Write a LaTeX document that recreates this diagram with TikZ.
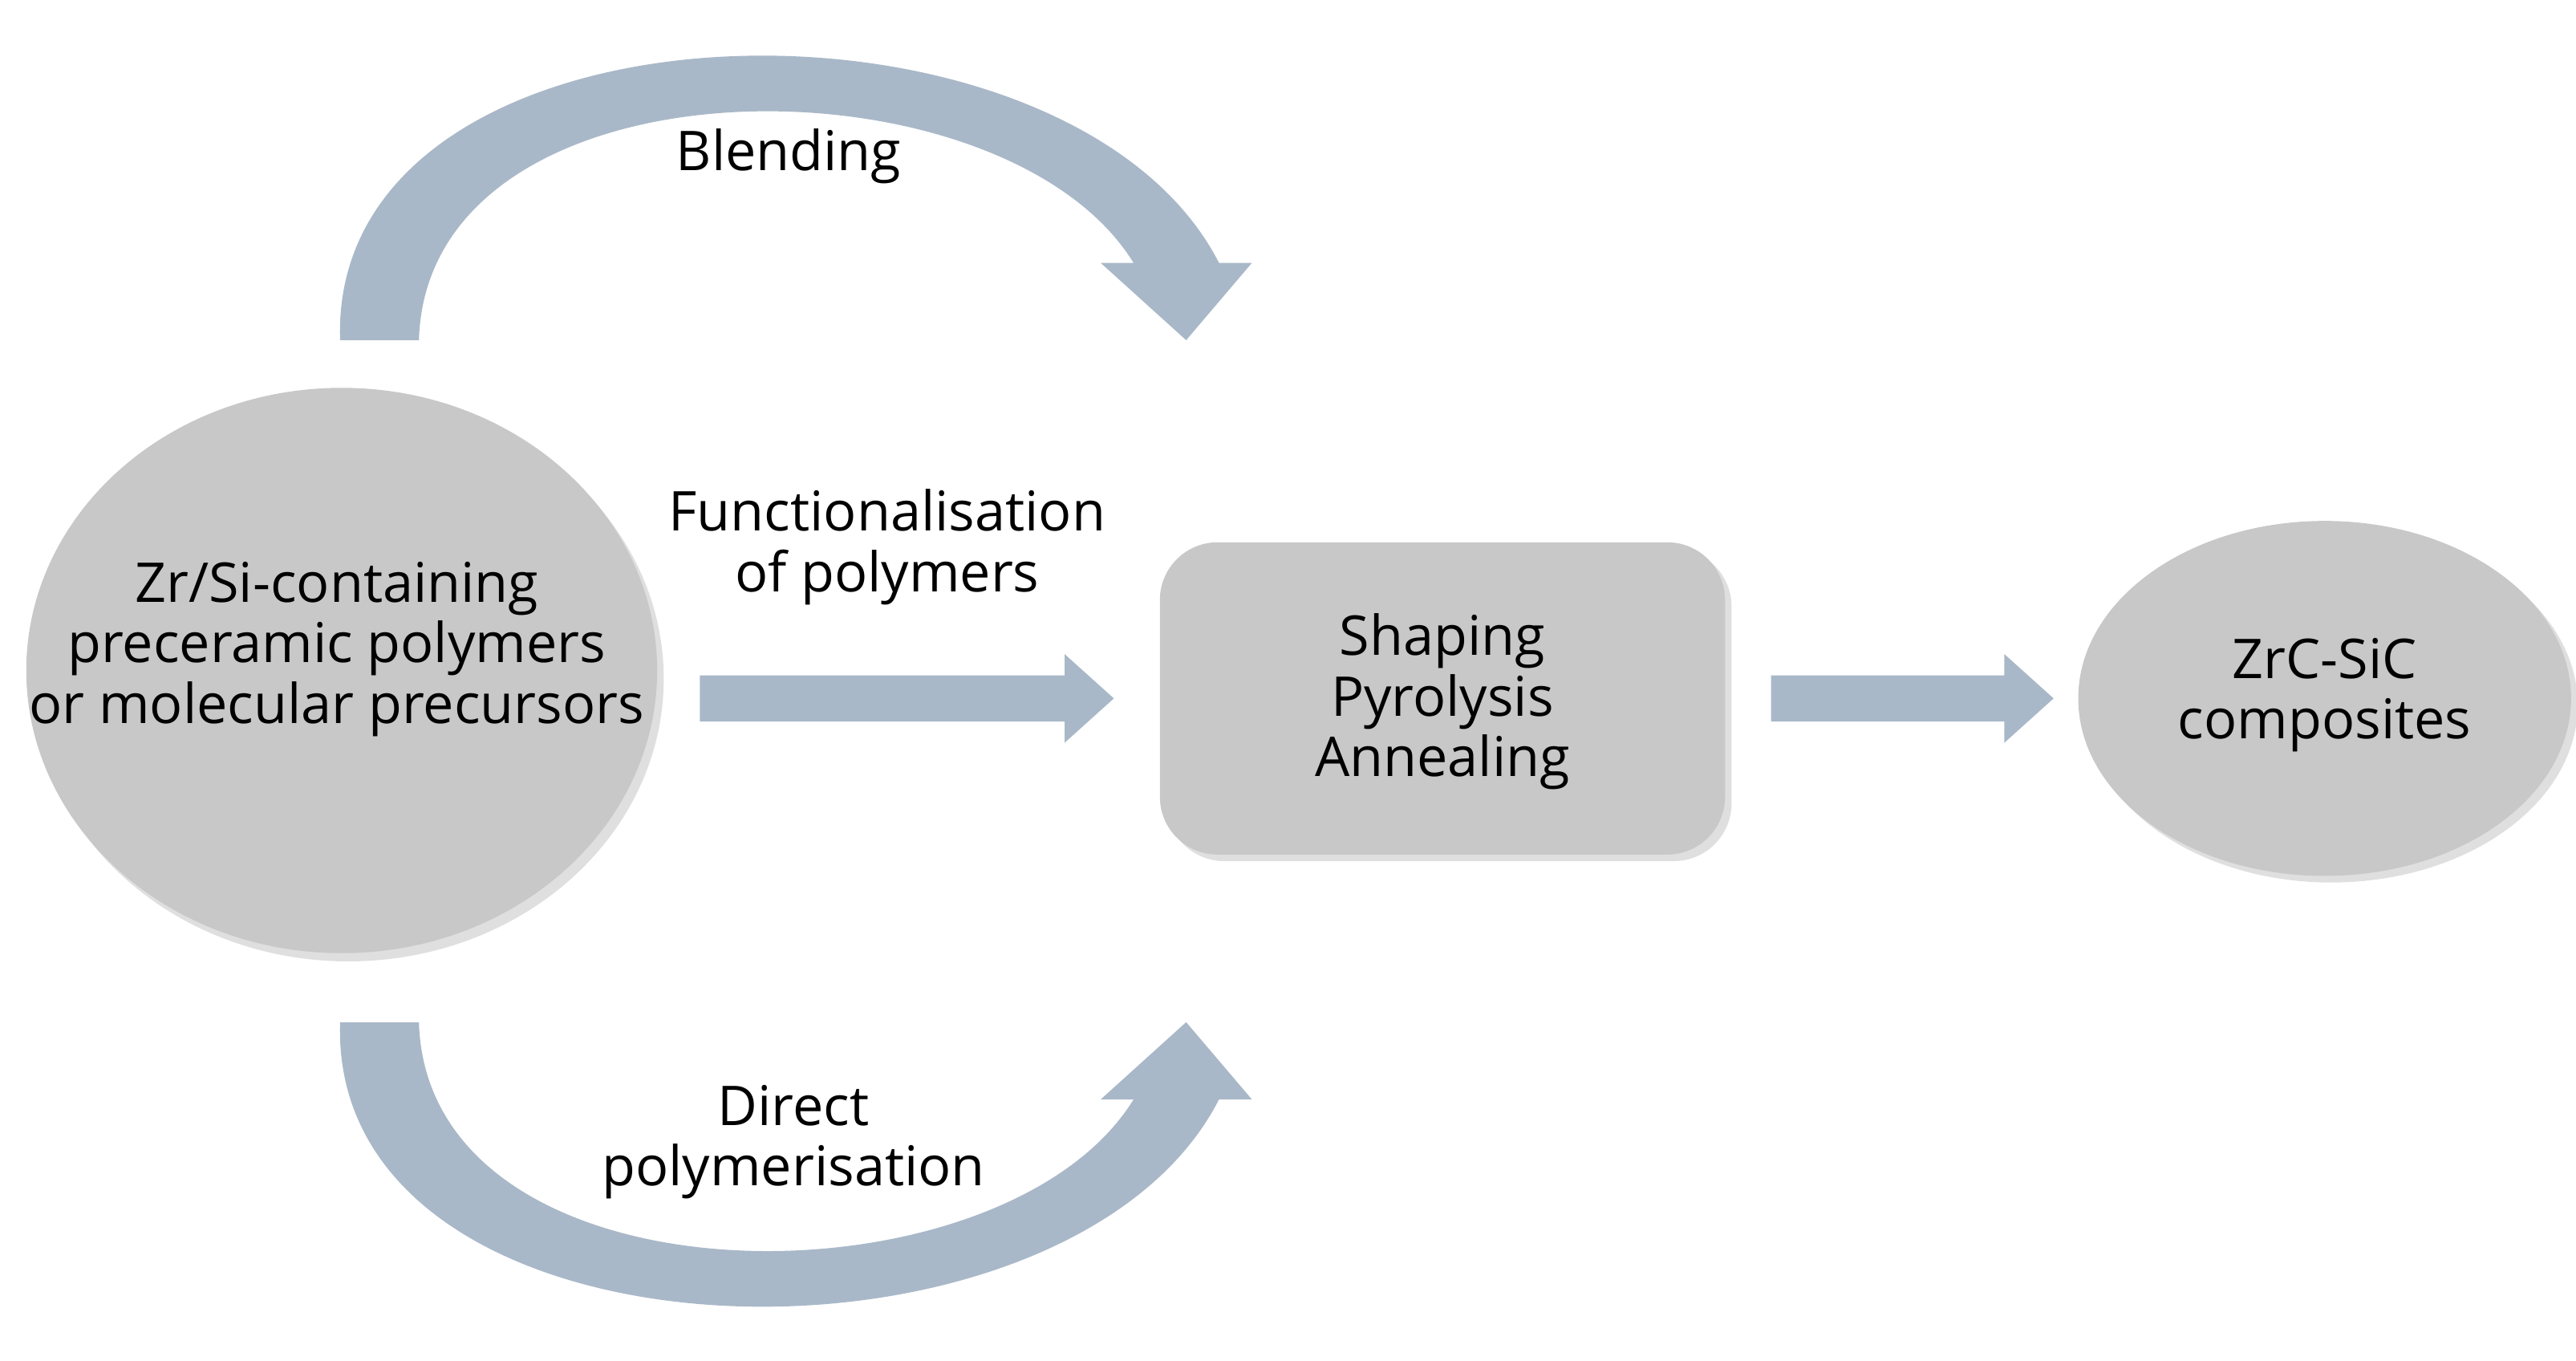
\documentclass[tikz,border=0pt]{standalone}
\usepackage{fontspec}
\setmainfont{Open Sans}
\begin{document}
\begin{tikzpicture}[x=0.02cm,y=-0.02cm,
  arr/.style={fill=arrowc,draw=none},
  lab/.style={font=\fontsize{19}{23}\selectfont,align=center,text=black}]
\definecolor{arrowc}{HTML}{A9B8C8}
\definecolor{blobc}{HTML}{C8C8C8}
\useasboundingbox (0,0) rectangle (1568,828);
% left ellipse
\fill[gray!25] (212,413) ellipse [x radius=192,y radius=172];
\fill[blobc] (208,408) ellipse [x radius=192,y radius=172];
\node[lab] (srct) at (205,395) {Zr/Si-containing\\[-2pt]preceramic polymers\\[-2pt]or molecular precursors};
% box
\fill[gray!25,rounded corners=20] (710,334) rectangle (1054,524);
\fill[blobc,rounded corners=20] (706,330) rectangle (1050,520);
\node[lab] (box) at (878,427) {Shaping\\[-2pt]Pyrolysis\\[-2pt]Annealing};
% right ellipse
\fill[gray!25] (1419,429) ellipse [x radius=150,y radius=108];
\fill[blobc] (1415,425) ellipse [x radius=150,y radius=108];
\node[lab] (prod) at (1415,423) {ZrC-SiC\\[-2pt]composites};
% straight arrows
\fill[arr] (426,411) -- (648,411) -- (648,398) -- (678,425) -- (648,452) -- (648,439) -- (426,439) -- cycle;
\fill[arr] (1078,411) -- (1220,411) -- (1220,398) -- (1250,425) -- (1220,452) -- (1220,439) -- (1078,439) -- cycle;
% top curved arrow
\fill[arr] (207,207) .. controls (200,-10) and (650,-20) .. (742,160)
  -- (762,160) -- (722,207) -- (670,160) -- (690,160)
  .. controls (610,30) and (260,30) .. (255,207) -- cycle;
% bottom curved arrow
\fill[arr] (207,622) .. controls (200,839) and (650,849) .. (742,669)
  -- (762,669) -- (722,622) -- (670,669) -- (690,669)
  .. controls (610,799) and (260,799) .. (255,622) -- cycle;
\node[lab] (l1) at (480,95) {Blending};
\node[lab] (l2) at (540,333) {Functionalisation\\[-2pt]of polymers};
\node[lab] (l3) at (483,695) {Direct\\[-2pt]polymerisation};
\end{tikzpicture}
\end{document}
